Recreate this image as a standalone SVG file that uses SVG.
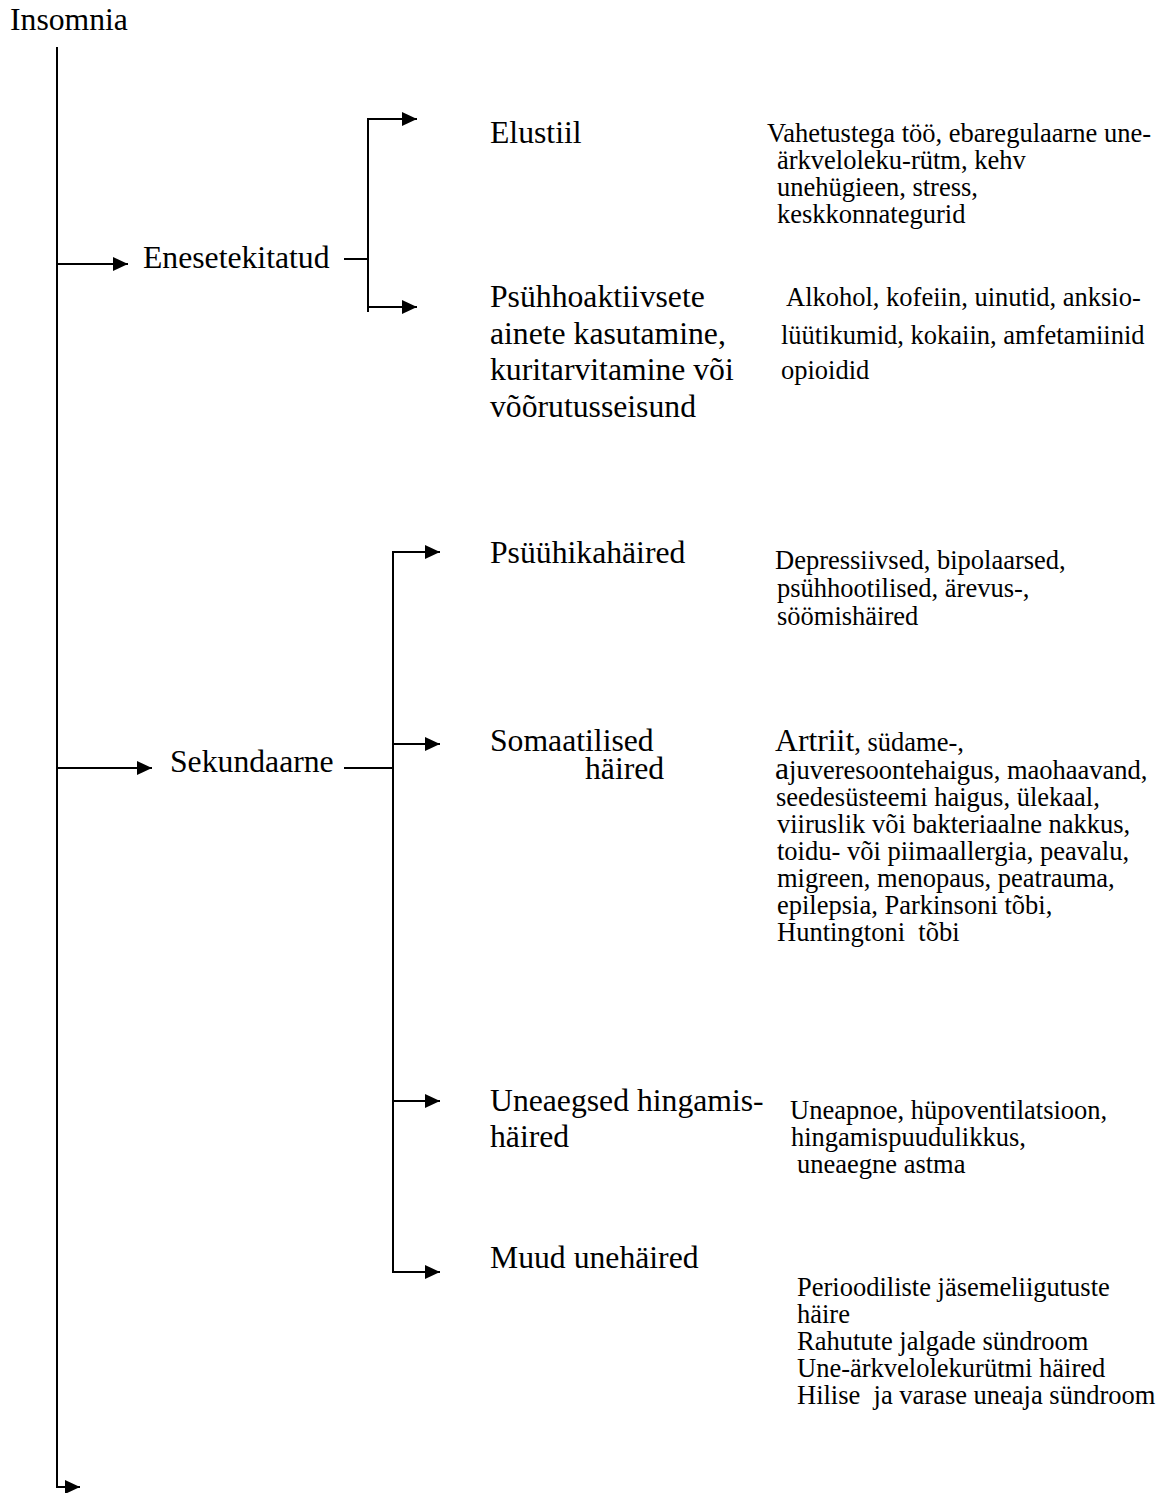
<svg xmlns="http://www.w3.org/2000/svg" width="1162" height="1493" viewBox="0 0 1162 1493">
<style>
text { font-family: "Liberation Serif", "Times New Roman", serif; fill: #000; }
.lg { font-size: 31.7px; }
.sm { font-size: 26.5px; }
.ln { fill: none; stroke: #000; stroke-width: 2; }
.ar { marker-end: url(#ah); }
</style>
<defs>
<marker id="ah" markerUnits="userSpaceOnUse" markerWidth="16" markerHeight="14" refX="15" refY="7" orient="auto">
<path d="M0,0 L15,7 L0,14 z" fill="#000"/>
</marker>
</defs>
<rect width="1162" height="1493" fill="#fff"/>

<g id="connectors">
<polyline class="ln ar" points="57,47 57,1487 80,1487"/>
<line class="ln ar" x1="57" y1="264" x2="128" y2="264"/>
<line class="ln" x1="344" y1="259" x2="368" y2="259"/>
<line class="ln" x1="368" y1="118" x2="368" y2="312"/>
<line class="ln ar" x1="367" y1="119" x2="417" y2="119"/>
<line class="ln ar" x1="367" y1="307" x2="417" y2="307"/>
<line class="ln ar" x1="57" y1="768" x2="152" y2="768"/>
<line class="ln" x1="344" y1="768" x2="393" y2="768"/>
<line class="ln" x1="393" y1="551" x2="393" y2="1273"/>
<line class="ln ar" x1="392" y1="552" x2="440" y2="552"/>
<line class="ln ar" x1="392" y1="744" x2="440" y2="744"/>
<line class="ln ar" x1="392" y1="1101" x2="440" y2="1101"/>
<line class="ln ar" x1="392" y1="1272" x2="440" y2="1272"/>
</g>

<g id="insomnia"><text class="lg" x="10" y="30">Insomnia</text></g>

<g id="enesetekitatud"><text class="lg" x="143" y="268">Enesetekitatud</text></g>

<g id="elustiil"><text class="lg" x="490" y="143">Elustiil</text></g>
<g id="elustiil-details">
<text class="sm" x="767" y="142">Vahetustega töö, ebaregulaarne une-</text>
<text class="sm" x="777" y="169">ärkveloleku-rütm, kehv</text>
<text class="sm" x="777" y="196">unehügieen, stress,</text>
<text class="sm" x="777" y="223">keskkonnategurid</text>
</g>

<g id="psuhhoaktiivsed">
<text class="lg" x="490" y="307">Psühhoaktiivsete</text>
<text class="lg" x="490" y="344">ainete kasutamine,</text>
<text class="lg" x="490" y="380">kuritarvitamine või</text>
<text class="lg" x="490" y="417">võõrutusseisund</text>
</g>
<g id="psuhhoaktiivsed-details">
<text class="sm" x="786" y="306">Alkohol, kofeiin, uinutid, anksio-</text>
<text class="sm" x="781" y="344">lüütikumid, kokaiin, amfetamiinid</text>
<text class="sm" x="781" y="379">opioidid</text>
</g>

<g id="sekundaarne"><text class="lg" x="170" y="772">Sekundaarne</text></g>

<g id="psuuhikahaired"><text class="lg" x="490" y="563">Psüühikahäired</text></g>
<g id="psuuhikahaired-details">
<text class="sm" x="775" y="569">Depressiivsed, bipolaarsed,</text>
<text class="sm" x="777" y="597">psühhootilised, ärevus-,</text>
<text class="sm" x="777" y="625">söömishäired</text>
</g>

<g id="somaatilised">
<text class="lg" x="490" y="751">Somaatilised</text>
<text class="lg" x="585" y="779">häired</text>
</g>
<g id="somaatilised-details">
<text class="sm" x="775" y="751"><tspan class="lg">Artriit</tspan>, südame-,</text>
<text class="sm" x="775" y="779"><tspan class="lg">a</tspan>juveresoontehaigus, maohaavand,</text>
<text class="sm" x="776" y="806">seedesüsteemi haigus, ülekaal,</text>
<text class="sm" x="777" y="833">viiruslik või bakteriaalne nakkus,</text>
<text class="sm" x="777" y="860">toidu- või piimaallergia, peavalu,</text>
<text class="sm" x="777" y="887">migreen, menopaus, peatrauma,</text>
<text class="sm" x="777" y="914">epilepsia, Parkinsoni tõbi,</text>
<text class="sm" x="777" y="941" xml:space="preserve">Huntingtoni  tõbi</text>
</g>

<g id="uneaegsed">
<text class="lg" x="490" y="1111">Uneaegsed hingamis-</text>
<text class="lg" x="490" y="1147">häired</text>
</g>
<g id="uneaegsed-details">
<text class="sm" x="790" y="1119">Uneapnoe, hüpoventilatsioon,</text>
<text class="sm" x="791" y="1146">hingamispuudulikkus,</text>
<text class="sm" x="797" y="1173">uneaegne astma</text>
</g>

<g id="muud">
<text class="lg" x="490" y="1268">Muud unehäired</text>
</g>
<g id="muud-details">
<text class="sm" x="797" y="1296">Perioodiliste jäsemeliigutuste</text>
<text class="sm" x="797" y="1323">häire</text>
<text class="sm" x="797" y="1350">Rahutute jalgade sündroom</text>
<text class="sm" x="797" y="1377">Une-ärkvelolekurütmi häired</text>
<text class="sm" x="797" y="1404" xml:space="preserve">Hilise  ja varase uneaja sündroom</text>
</g>
</svg>
